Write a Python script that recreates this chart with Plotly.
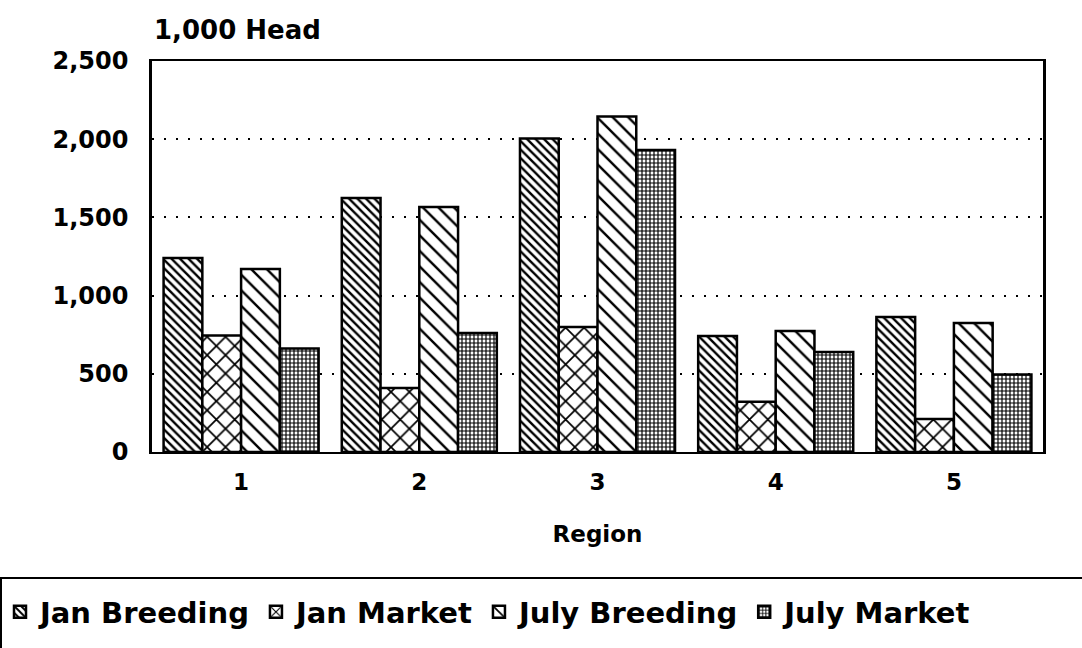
import plotly.graph_objects as go

regions = ["1", "2", "3", "4", "5"]
jan_breeding = [1240, 1624, 2005, 742, 863]
jan_market = [745, 409, 799, 322, 211]
july_breeding = [1170, 1567, 2145, 774, 825]
july_market = [662, 761, 1931, 639, 495]

series = [
    ("Jan Breeding", jan_breeding, dict(shape="\\", size=6, solidity=0.4)),
    ("Jan Market", jan_market, dict(shape="x", size=13, solidity=0.25)),
    ("July Breeding", july_breeding, dict(shape="\\", size=11, solidity=0.22)),
    ("July Market", july_market, dict(shape="+", size=4, solidity=0.5)),
]

FONT = "DejaVu Sans"
W, H = 1082, 648
L, R, T, B = 152, 39, 61, 196
PW, PH = W - L - R, H - T - B

fig = go.Figure()
for name, vals, pat in series:
    fig.add_trace(go.Bar(
        name=name, x=regions, y=vals,
        marker=dict(color="white", line=dict(color="black", width=2.5),
                    pattern=dict(fgcolor="black", bgcolor="white", fillmode="replace", **pat)),
    ))

# page px -> paper coords
def px2paper_x(px):
    return (px - L) / PW

def py2paper_y(py):
    return (H - B - py) / PH

fig.update_layout(
    width=W, height=H,
    paper_bgcolor="white", plot_bgcolor="white",
    barmode="group", bargap=0.13, bargroupgap=0,
    margin=dict(l=L, r=R, t=T, b=B, autoexpand=False),
    font=dict(family=FONT, color="black", size=22, weight="bold"),
    xaxis=dict(
        showline=True, linecolor="black", linewidth=2, mirror=True,
        ticks="", ticklabelstandoff=8,
        tickfont=dict(size=23, family=FONT, weight="bold"),
        title=dict(text="Region", font=dict(size=23, family=FONT, weight="bold"), standoff=32),
    ),
    yaxis=dict(
        range=[0, 2500], dtick=500, tickformat=",d",
        showline=True, linecolor="black", linewidth=2.5, mirror=True,
        showgrid=True, gridcolor="black", gridwidth=1.5, griddash="2px,10px",
        zeroline=False, ticks="", ticklabelstandoff=16,
        tickfont=dict(size=24, family=FONT, weight="bold"),
    ),
    legend=dict(
        orientation="h", xref="paper", yref="paper",
        x=px2paper_x(0), y=py2paper_y(612), xanchor="left", yanchor="middle",
        borderwidth=0, bgcolor="rgba(0,0,0,0)",
        font=dict(size=29, family=FONT, weight="bold"),
        itemwidth=30, tracegroupgap=0,
    ),
    shapes=[dict(
        type="rect", xref="paper", yref="paper",
        x0=px2paper_x(1), x1=px2paper_x(W + 20),
        y0=py2paper_y(578), y1=py2paper_y(H + 20),
        line=dict(color="black", width=2), fillcolor="rgba(0,0,0,0)", layer="below",
    )],
    annotations=[dict(
        text="1,000 Head", xref="paper", yref="paper", x=0, y=1.0,
        xanchor="left", yanchor="bottom", yshift=14, showarrow=False,
        font=dict(size=26, family=FONT, weight="bold"),
    )],
)

fig.write_html("out.html", config={"displayModeBar": False},
               post_script="document.body.style.margin='0';")
